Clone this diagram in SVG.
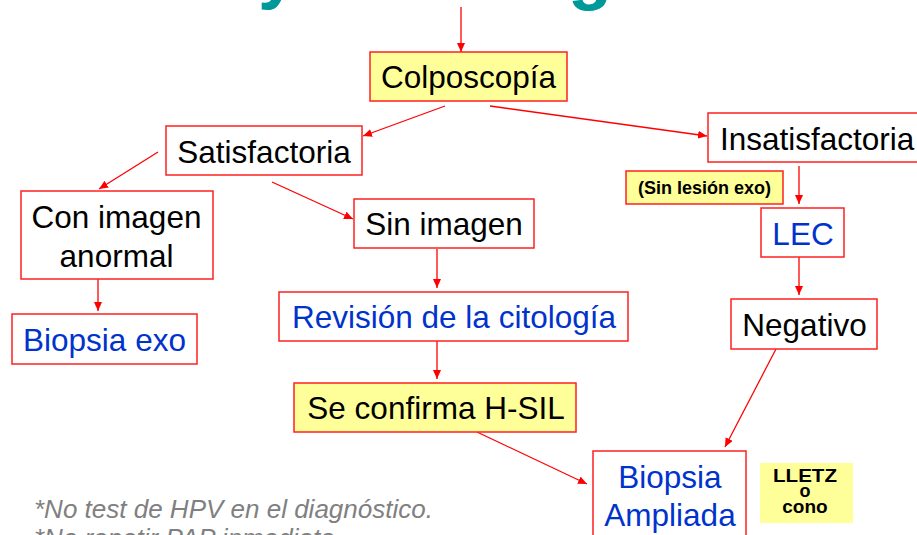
<svg xmlns="http://www.w3.org/2000/svg" width="917" height="535" viewBox="0 0 917 535">
<defs>
<style>
.box{fill:#ffffff;stroke:#ff2020;stroke-width:1.5}
.ybox{fill:#ffff99;stroke:#ff2020;stroke-width:1.5}
.t{font-family:"Liberation Sans",Arial,sans-serif;font-size:31.5px;fill:#000000;text-anchor:middle}
.b{fill:#0033cc}
.sm{font-family:"Liberation Sans",Arial,sans-serif;font-weight:bold;fill:#000000;text-anchor:middle}
.c{stroke:#ff0000;stroke-width:1.3;fill:none;marker-end:url(#ah)}
.title{font-family:"Liberation Sans",Arial,sans-serif;font-weight:bold;font-size:72px;fill:#009999}
.note{font-family:"Liberation Sans",Arial,sans-serif;font-style:italic;font-size:26px;fill:#808080}
</style>
<marker id="ah" markerUnits="userSpaceOnUse" markerWidth="10" markerHeight="8" refX="9" refY="4" orient="auto">
<path d="M0,0 L9,4 L0,8 Z" fill="#ff0000"/>
</marker>
</defs>
<rect width="917" height="535" fill="#ffffff"/>
<g id="title">
<text class="title" x="258" y="-5">y</text>
<text class="title" x="568" y="-4">g</text>
</g>
<g id="connectors">
<line class="c" x1="461" y1="7" x2="461" y2="52"/>
<line class="c" x1="445" y1="106" x2="363" y2="136"/>
<line class="c" x1="490" y1="106" x2="707" y2="136"/>
<line class="c" x1="158" y1="152" x2="99" y2="189"/>
<line class="c" x1="272" y1="182" x2="353" y2="219"/>
<line class="c" x1="98" y1="279" x2="98" y2="311"/>
<line class="c" x1="437" y1="249" x2="437" y2="288"/>
<line class="c" x1="437" y1="341" x2="437" y2="379"/>
<line class="c" x1="477" y1="432" x2="587" y2="484"/>
<line class="c" x1="799" y1="166" x2="799" y2="204"/>
<line class="c" x1="799" y1="257" x2="799" y2="295"/>
<line class="c" x1="776" y1="349" x2="725" y2="447"/>
</g>
<g id="colposcopia">
<rect class="ybox" x="370" y="52" width="197" height="49"/>
<text class="t" x="468.5" y="88">Colposcopía</text>
</g>
<g id="satisfactoria">
<rect class="box" x="166" y="126" width="196" height="49"/>
<text class="t" x="264" y="163">Satisfactoria</text>
</g>
<g id="insatisfactoria">
<rect class="box" x="708" y="113" width="215" height="49"/>
<text class="t" x="720" y="150" style="text-anchor:start">Insatisfactoria</text>
</g>
<g id="con-imagen">
<rect class="box" x="21" y="191" width="192" height="88"/>
<text class="t" x="116.5" y="228">Con imagen</text>
<text class="t" x="116.5" y="267">anormal</text>
</g>
<g id="sin-imagen">
<rect class="box" x="354" y="199" width="180" height="49"/>
<text class="t" x="444" y="235">Sin imagen</text>
</g>
<g id="sin-lesion">
<rect class="ybox" x="626" y="171" width="157" height="33"/>
<text class="sm" x="704.5" y="194" font-size="18">(Sin lesión exo)</text>
</g>
<g id="lec">
<rect class="box" x="761" y="208" width="83" height="49"/>
<text class="t b" x="803" y="245">LEC</text>
</g>
<g id="biopsia-exo">
<rect class="box" x="12" y="314" width="185" height="50"/>
<text class="t b" x="104.5" y="351">Biopsia exo</text>
</g>
<g id="revision">
<rect class="box" x="279" y="292" width="349" height="49"/>
<text class="t b" x="454" y="328">Revisión de la citología</text>
</g>
<g id="negativo">
<rect class="box" x="731" y="299" width="146" height="50"/>
<text class="t" x="804.5" y="336">Negativo</text>
</g>
<g id="se-confirma">
<rect class="ybox" x="294" y="383" width="282" height="49"/>
<text class="t" x="436" y="419">Se confirma H-SIL</text>
</g>
<g id="biopsia-ampliada">
<rect class="box" x="593" y="451" width="153" height="100"/>
<text class="t b" x="670" y="488">Biopsia</text>
<text class="t b" x="670" y="526">Ampliada</text>
</g>
<g id="lletz">
<rect x="760" y="463" width="93" height="60" fill="#ffff99"/>
<text class="sm" x="805" y="482" font-size="19" textLength="64" lengthAdjust="spacingAndGlyphs">LLETZ</text>
<text class="sm" x="805" y="497" font-size="18">o</text>
<text class="sm" x="805" y="513" font-size="19">cono</text>
</g>
<g id="notes">
<text class="note" x="34" y="518">*No test de HPV en el diagnóstico.</text>
<text class="note" x="34" y="547">*No repetir PAP inmediato</text>
</g>
</svg>
